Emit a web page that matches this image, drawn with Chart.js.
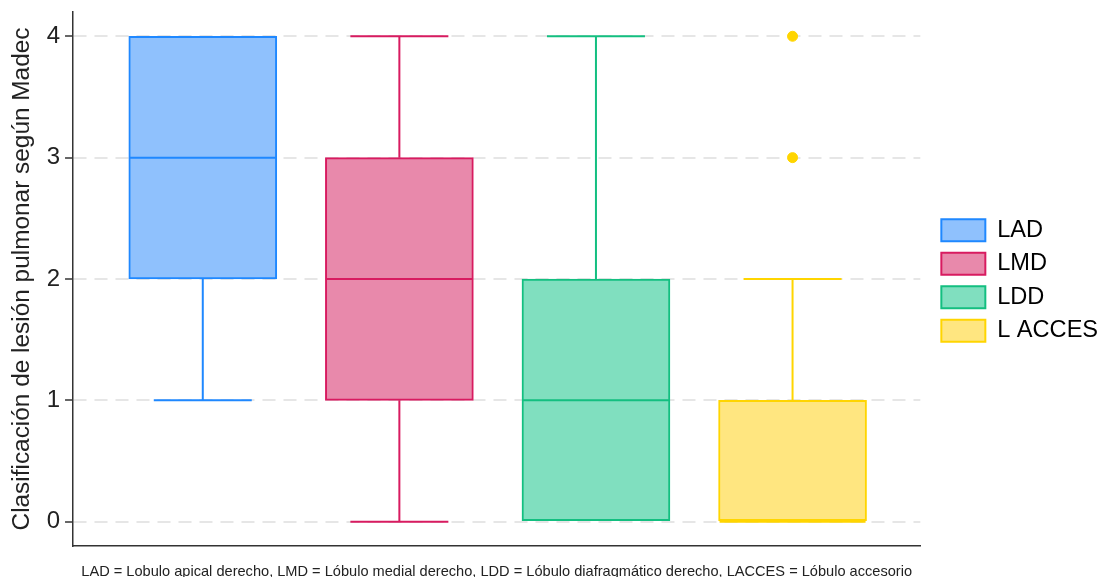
<!DOCTYPE html>
<html>
<head>
<meta charset="utf-8">
<script src="https://cdn.jsdelivr.net/npm/chart.js@4.4.1/dist/chart.umd.min.js"></script>
<style>
  html, body { margin: 0; padding: 0; background: #fff; }
  #wrap { width: 1099px; height: 577px; }
</style>
</head>
<body>
<div id="wrap"><canvas id="boxChart"></canvas></div>
<script>
// lobes and their box-plot summaries (Madec score)
const lobes = ['LAD', 'LMD', 'LDD', 'L ACCES'];
const whiskerLow = [1, 0, 0, 0];
const q1 = [2, 1, 0, 0];
const median = [3, 2, 1, 0];
const q3 = [4, 3, 2, 1];
const whiskerHigh = [4, 4, 4, 2];
const outlierLobe = [4, 4];
const outlierValue = [3, 4];
const yTicks = [0, 1, 2, 3, 4];
const yTickLabels = ['0', '1', '2', '3', '4'];

const strokeColors = ['#1f88ff', '#d81b60', '#13bf80', '#ffd500'];
const fillColors = ['#8fc1fd', '#e889ab', '#80dfbf', '#ffe680'];
const FONT = "'Liberation Sans', Arial, sans-serif";

// whiskers, caps and median lines drawn on top of the floating bars
const boxExtras = {
  id: 'boxExtras',
  afterLayout(chart) {
    // push the legend a little away from the plot and up
    const lg = chart.legend;
    const dx = chart.chartArea.right + 21 - (lg.left + lg.options.labels.padding);
    lg.left += dx; lg.right += dx;
    lg.top -= 14; lg.bottom -= 14;
  },
  afterDatasetsDraw(chart) {
    const { ctx, scales: { x, y } } = chart;
    const half = 74, cap = 49;
    ctx.save();
    ctx.lineWidth = 2;
    lobes.forEach((_, i) => {
      const cx = x.getPixelForValue(i + 1);
      ctx.strokeStyle = strokeColors[i];
      ctx.beginPath();
      // upper whisker
      if (whiskerHigh[i] > q3[i]) {
        ctx.moveTo(cx, y.getPixelForValue(q3[i]));
        ctx.lineTo(cx, y.getPixelForValue(whiskerHigh[i]));
        ctx.moveTo(cx - cap, y.getPixelForValue(whiskerHigh[i]));
        ctx.lineTo(cx + cap, y.getPixelForValue(whiskerHigh[i]));
      }
      // lower whisker
      if (whiskerLow[i] < q1[i]) {
        ctx.moveTo(cx, y.getPixelForValue(q1[i]));
        ctx.lineTo(cx, y.getPixelForValue(whiskerLow[i]));
        ctx.moveTo(cx - cap, y.getPixelForValue(whiskerLow[i]));
        ctx.lineTo(cx + cap, y.getPixelForValue(whiskerLow[i]));
      }
      // median
      const my = y.getPixelForValue(median[i]);
      ctx.moveTo(cx - half + 1, my);
      ctx.lineTo(cx + half - 1, my);
      ctx.stroke();
    });
    ctx.restore();
  }
};

const ctx = document.getElementById('boxChart');
new Chart(ctx, {
  data: {
    datasets: [{
      type: 'bar',
      data: lobes.map((_, i) => ({ x: i + 1, y: [q1[i], q3[i]] })),
      backgroundColor: fillColors,
      borderColor: strokeColors,
      borderWidth: 2,
      borderSkipped: false,
      barThickness: 148
    }, {
      type: 'scatter',
      data: outlierLobe.map((l, i) => ({ x: l, y: outlierValue[i] })),
      backgroundColor: strokeColors[3],
      borderColor: strokeColors[3],
      pointRadius: 5,
      pointHoverRadius: 5
    }]
  },
  options: {
    responsive: true,
    maintainAspectRatio: false,
    animation: false,
    layout: { padding: { top: 12, right: 2, left: 0, bottom: 0 } },
    plugins: {
      tooltip: { enabled: false },
      legend: {
        position: 'right',
        onClick: null,
        labels: {
          boxWidth: 44,
          boxHeight: 22,
          padding: 9.9,
          color: '#111',
          font: { family: FONT, size: 23.6 },
          generateLabels: () => lobes.map((name, i) => ({
            text: name,
            fillStyle: fillColors[i],
            strokeStyle: strokeColors[i],
            lineWidth: 2,
            hidden: false,
            datasetIndex: 0,
            index: i
          }))
        }
      }
    },
    scales: {
      x: {
        type: 'linear',
        offset: false,
        min: 0.34,
        max: 4.65,
        ticks: { display: false },
        grid: { display: false, drawTicks: false },
        border: { color: '#333', width: 1.5 },
        title: {
          display: true,
          text: 'LAD = Lobulo apical derecho, LMD = Lóbulo medial derecho, LDD = Lóbulo diafragmático derecho, LACCES = Lóbulo accesorio',
          color: '#222',
          font: { family: FONT, size: 14.6 },
          padding: { top: 17.5, bottom: -4 }
        }
      },
      y: {
        min: -0.2,
        max: 4.2,
        afterBuildTicks: (scale) => { scale.ticks = yTicks.map(v => ({ value: v })); },
        afterFit: (scale) => { scale.paddingTop = 0; scale.paddingBottom = 0; },
        ticks: {
          callback: (v) => yTickLabels[yTicks.indexOf(v)],
          color: '#222',
          padding: 5,
          font: { family: FONT, size: 24 }
        },
        grid: {
          color: '#e6e6e6',
          lineWidth: 2,
          tickLength: 8,
          tickColor: '#333',
          tickWidth: 1.5,
          tickBorderDash: []
        },
        border: { color: '#333', width: 1.5, dash: [13, 8] },
        title: {
          display: true,
          text: 'Clasificación de lesión pulmonar según Madec',
          color: '#222',
          font: { family: FONT, size: 24.4 },
          padding: { top: 8, bottom: 4.4 }
        }
      }
    }
  },
  plugins: [boxExtras]
});
</script>
</body>
</html>
